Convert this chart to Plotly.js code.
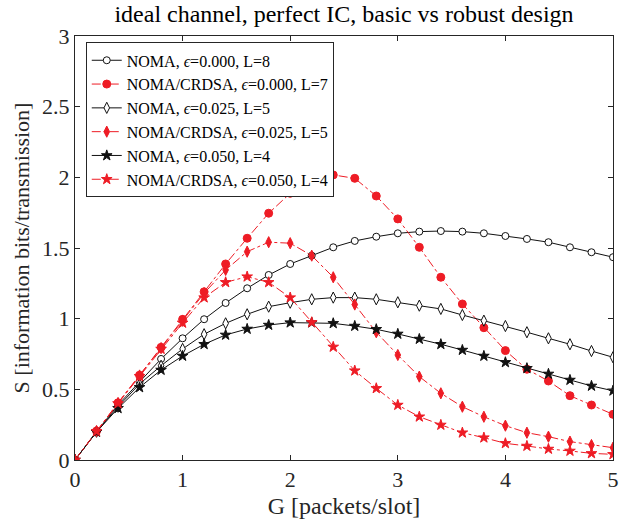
<!DOCTYPE html>
<html><head><meta charset="utf-8">
<script src="https://cdn.plot.ly/plotly-3.0.1.min.js"></script>
<style>html,body{margin:0;padding:0;background:#fff}#chart{width:628px;height:522px}</style>
</head><body><div id="chart"></div>
<script>
const G = [0,0.2,0.4,0.6,0.8,1.0,1.2,1.4,1.6,1.8,2.0,2.2,2.4,2.6,2.8,3.0,3.2,3.4,3.6,3.8,4.0,4.2,4.4,4.6,4.8,5.0];
const noma_e0    = [0,0.2,0.39,0.554,0.715,0.861,0.996,1.111,1.215,1.309,1.387,1.446,1.505,1.55,1.58,1.604,1.616,1.62,1.616,1.604,1.585,1.564,1.541,1.505,1.47,1.435];
const crdsa_e0   = [0,0.205,0.405,0.6,0.797,0.995,1.19,1.387,1.569,1.746,1.887,1.98,2.017,1.993,1.868,1.706,1.505,1.293,1.104,0.936,0.774,0.642,0.559,0.455,0.389,0.323];
const noma_e025  = [0,0.2,0.377,0.538,0.667,0.786,0.89,0.967,1.031,1.085,1.113,1.137,1.149,1.149,1.137,1.116,1.092,1.069,1.026,0.986,0.948,0.904,0.861,0.819,0.771,0.727];
const crdsa_e025 = [0,0.204,0.403,0.598,0.792,0.985,1.18,1.345,1.474,1.541,1.534,1.446,1.293,1.10,0.904,0.743,0.59,0.472,0.377,0.306,0.243,0.193,0.165,0.13,0.106,0.087];
const noma_e05   = [0,0.198,0.366,0.514,0.637,0.736,0.819,0.885,0.927,0.955,0.972,0.972,0.967,0.948,0.925,0.892,0.856,0.819,0.778,0.736,0.691,0.649,0.609,0.566,0.524,0.49];
const crdsa_e05  = [0,0.203,0.4,0.592,0.785,0.97,1.149,1.257,1.297,1.257,1.149,0.974,0.80,0.632,0.507,0.389,0.306,0.248,0.193,0.158,0.118,0.099,0.078,0.064,0.047,0.04];
const names = [
 "NOMA, <i>ϵ</i>=0.000, L=8",
 "NOMA/CRDSA, <i>ϵ</i>=0.000, L=7",
 "NOMA, <i>ϵ</i>=0.025, L=5",
 "NOMA/CRDSA, <i>ϵ</i>=0.025, L=5",
 "NOMA, <i>ϵ</i>=0.050, L=4",
 "NOMA/CRDSA, <i>ϵ</i>=0.050, L=4"
];
const RED = '#ee1c25', BLK = '#111111';
function blk(y, name, sym, sz){
  return {x:G, y:y, name:name, mode:'lines+markers', type:'scatter',
    line:{color:BLK, width:1},
    marker:{symbol:sym, size:sz, color: sym==='star' ? BLK : '#ffffff', line:{color:BLK, width:1}}};
}
function red(y, name, sym, sz){
  return {x:G, y:y, name:name, mode:'lines+markers', type:'scatter',
    line:{color:RED, width:1, dash:'dashdot'},
    marker:{symbol:sym, size:sz, color:RED, line:{color:RED, width:1}}};
}
const data = [
  blk(noma_e0, names[0], 'circle', 7),
  red(crdsa_e0, names[1], 'circle', 8),
  blk(noma_e025, names[2], 'diamond-tall', 8),
  red(crdsa_e025, names[3], 'diamond-tall', 8),
  blk(noma_e05, names[4], 'star', 8),
  red(crdsa_e05, names[5], 'star', 8)
];
const SERIF = 'Liberation Serif, Times New Roman, serif';
const axisCommon = {showgrid:false, zeroline:false, showline:true, mirror:'ticks', linecolor:'#262626', linewidth:1,
  ticks:'inside', ticklen:5, tickcolor:'#262626', tickfont:{family:SERIF, size:22, color:'#262626'}};
const layout = {
  width:628, height:522,
  margin:{l:75, r:15, t:36, b:62},
  paper_bgcolor:'#fff', plot_bgcolor:'#fff',
  title:{text:'ideal channel, perfect IC, basic vs robust design', font:{family:SERIF, size:24, color:'#000'}, xref:'paper', x:0.5, xanchor:'center', y:0.99, yanchor:'top'},
  xaxis:Object.assign({}, axisCommon, {range:[0,5], tickvals:[0,1,2,3,4,5], ticktext:['0','1','2','3','4','5'],
    title:{text:'G [packets/slot]', font:{family:SERIF, size:24, color:'#262626'}, standoff:5}}),
  yaxis:Object.assign({}, axisCommon, {range:[0,3], tickvals:[0,0.5,1,1.5,2,2.5,3], ticktext:['0','0.5','1','1.5','2','2.5','3'],
    title:{text:'S [information bits/transmission]', font:{family:SERIF, size:22, color:'#262626'}, standoff:6}}),
  legend:{x:0.02, y:0.985, xanchor:'left', yanchor:'top', bgcolor:'#fff', bordercolor:'#262626', borderwidth:1,
    font:{family:SERIF, size:16, color:'#000'}, tracegroupgap:0, itemwidth:30},
  showlegend:true
};
Plotly.newPlot('chart', data, layout, {displayModeBar:false, staticPlot:true});
</script></body></html>
